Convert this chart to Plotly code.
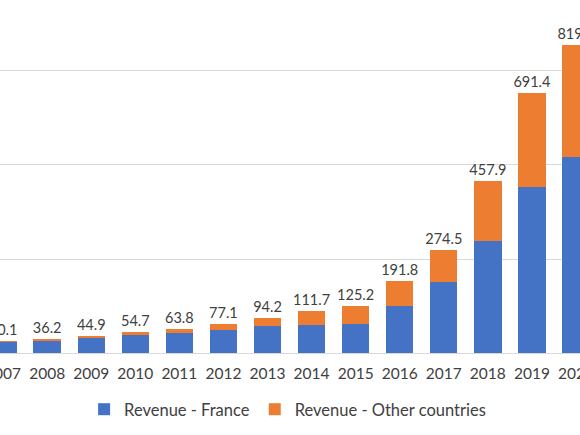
import plotly.graph_objects as go

years = list(range(2007, 2021))
totals = [30.1, 36.2, 44.9, 54.7, 63.8, 77.1, 94.2, 111.7, 125.2, 191.8, 274.5, 457.9, 691.4, 819.5]
france = [29.6, 33.0, 42.0, 47.4, 53.5, 60.7, 70.5, 74.0, 77.6, 123.7, 190.0, 299.0, 441.0, 521.0]
other = [round(t - f, 1) for t, f in zip(totals, france)]

blue = "#4472C4"
orange = "#ED7D31"
txt = "#404040"

fig = go.Figure()
fig.add_trace(go.Bar(x=years, y=france, name="Revenue - France",
                     marker=dict(color=blue, line=dict(width=0))))
fig.add_trace(go.Bar(x=years, y=other, name="Revenue - Other countries",
                     marker=dict(color=orange, line=dict(width=0)),
                     text=[f"{t:.1f}" for t in totals], textposition="outside",
                     constraintext="none", cliponaxis=False,
                     textfont=dict(size=14.5, color=txt)))

fig.update_layout(
    width=580, height=435,
    margin=dict(l=0, r=0, t=0, b=82, autoexpand=False),
    barmode="stack", bargap=0.38,
    plot_bgcolor="white", paper_bgcolor="white",
    font=dict(family="Lato", color=txt, size=15),
    showlegend=True,
    legend=dict(orientation="h", x=0.145, xanchor="left", y=-0.16, yanchor="middle",
                font=dict(size=16.5, color=txt), traceorder="normal"),
)
fig.update_xaxes(range=[2006.93, 2020.091], tickmode="array", tickvals=years,
                 ticktext=[str(y) for y in years], showgrid=False,
                 showline=True, linecolor="#d9d9d9", linewidth=1,
                 ticks="", ticklabelstandoff=6, ticklabeloverflow="allow",
                 automargin=False, tickfont=dict(size=15.5, color=txt))
fig.update_yaxes(range=[0, 938.8], tickvals=[250, 500, 750], showticklabels=False,
                 showgrid=True, gridcolor="#d9d9d9", gridwidth=1, zeroline=False,
                 automargin=False)

# page body has a default 8px margin; drop it so the figure sits at the corner
fig.write_html("out.html", config={"displayModeBar": False},
               post_script="document.body.style.margin='0';")
